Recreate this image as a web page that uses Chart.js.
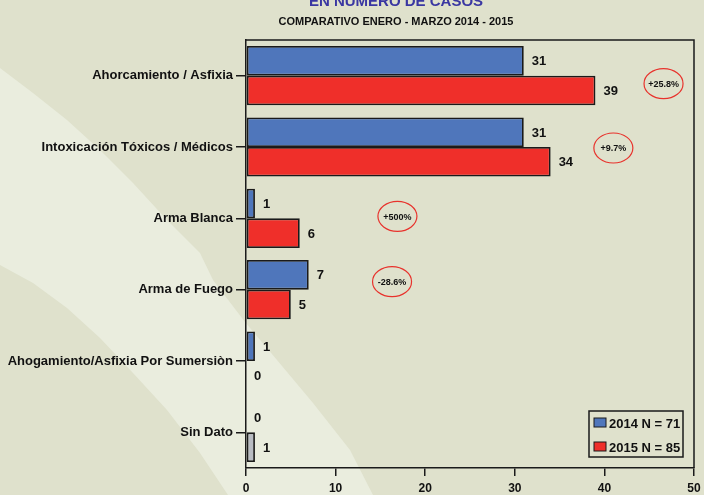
<!DOCTYPE html>
<html>
<head>
<meta charset="utf-8">
<script src="https://cdn.jsdelivr.net/npm/chart.js@4"></script>
<style>
  html, body { margin: 0; padding: 0; background: #dfe1cc; }
  #wrap { width: 704px; height: 495px; }
</style>
</head>
<body>
<div id="wrap"><canvas id="c" width="704" height="495"></canvas></div>
<script>
const categories = ['Ahorcamiento / Asfixia', 'Intoxicación Tóxicos / Médicos', 'Arma Blanca', 'Arma de Fuego', 'Ahogamiento/Asfixia Por Sumersiòn', 'Sin Dato'];
const values2014 = [31, 31, 1, 7, 1, 0];
const values2015 = [39, 34, 6, 5, 0, 1];
const seriesLabels = ['2014 N = 71', '2015 N = 85'];
const xTicks = [0, 10, 20, 30, 40, 50];
const titleText = 'EN NÚMERO DE CASOS';
const subtitleText = 'COMPARATIVO ENERO - MARZO 2014 - 2015';
const changeLabels = ['+25.8%', '+9.7%', '+500%', '-28.6%'];
const changeCategory = [0, 1, 2, 3];
const changeXValue = [46.6, 41.0, 16.9, 16.3];
const changeDy = [8, 1, -2, -8];

const BLUE = '#4f76bb', RED = '#ef2f2a', GREY = '#b9bcc3', EDGE = '#1a1a1a';
const FONT = "'Liberation Sans', Arial, sans-serif";

const bgPlugin = {
  id: 'bg',
  beforeDraw(chart) {
    const ctx = chart.ctx;
    ctx.save();
    ctx.fillStyle = '#dfe1cc';
    ctx.fillRect(0, 0, chart.width, chart.height);
    const upper = [[0,68],[33,93],[67,120],[100,150],[133,183],[167,220],[200,253],[213,280],[245,322],[277,360],[313,403],[350,450],[373,495]];
    const lower = [[0,265],[33,283],[67,308],[100,338],[133,373],[167,410],[200,453],[220,483],[228,495]];
    ctx.beginPath();
    upper.forEach((p, i) => i ? ctx.lineTo(p[0], p[1]) : ctx.moveTo(p[0], p[1]));
    for (let i = lower.length - 1; i >= 0; i--) ctx.lineTo(lower[i][0], lower[i][1]);
    ctx.closePath();
    ctx.fillStyle = '#eaedde';
    ctx.fill();
    ctx.restore();
  }
};

const overlayPlugin = {
  id: 'overlay',
  afterDatasetsDraw(chart) {
    const ctx = chart.ctx;
    ctx.save();
    ctx.fillStyle = '#111';
    ctx.font = 'bold 13px ' + FONT;
    ctx.textAlign = 'left';
    ctx.textBaseline = 'middle';
    chart.data.datasets.forEach((ds, di) => {
      const meta = chart.getDatasetMeta(di);
      meta.data.forEach((el, i) => {
        ctx.fillText(String(ds.data[i]), el.x + 8, el.y + 1);
      });
    });
    ctx.restore();
  },
  afterDraw(chart) {
    const ctx = chart.ctx;
    const a = chart.chartArea;
    ctx.save();
    ctx.strokeStyle = EDGE;
    ctx.lineWidth = 1.5;
    ctx.beginPath();
    ctx.moveTo(a.left, a.top);
    ctx.lineTo(a.right, a.top);
    ctx.lineTo(a.right, a.bottom);
    ctx.stroke();

    ctx.textAlign = 'center';
    ctx.textBaseline = 'alphabetic';
    ctx.fillStyle = '#3a37a2';
    ctx.font = 'bold 15px ' + FONT;
    ctx.fillText(titleText, 396, 6);
    ctx.fillStyle = '#111';
    ctx.font = 'bold 11px ' + FONT;
    ctx.fillText(subtitleText, 396, 25);

    const xs = chart.scales.x, ys = chart.scales.y;
    changeLabels.forEach((t, i) => {
      const cx = xs.getPixelForValue(changeXValue[i]);
      const cy = ys.getPixelForValue(changeCategory[i]) + changeDy[i];
      ctx.beginPath();
      ctx.ellipse(cx, cy, 19.5, 15, 0, 0, Math.PI * 2);
      ctx.strokeStyle = '#e8322c';
      ctx.lineWidth = 1.2;
      ctx.stroke();
      ctx.fillStyle = '#111';
      ctx.font = 'bold 9px ' + FONT;
      ctx.textAlign = 'center';
      ctx.textBaseline = 'middle';
      ctx.fillText(t, cx, cy + 1);
    });

    const lx = 589, ly = 411, lw = 94, lh = 46;
    ctx.strokeStyle = EDGE;
    ctx.lineWidth = 1.5;
    ctx.strokeRect(lx, ly, lw, lh);
    const colors = [BLUE, RED];
    seriesLabels.forEach((lab, i) => {
      const y = ly + 12 + i * 24;
      ctx.fillStyle = colors[i];
      ctx.fillRect(lx + 5, y - 5, 12, 9);
      ctx.strokeStyle = EDGE;
      ctx.lineWidth = 1;
      ctx.strokeRect(lx + 5, y - 5, 12, 9);
      ctx.fillStyle = '#111';
      ctx.font = 'bold 13px ' + FONT;
      ctx.textAlign = 'left';
      ctx.textBaseline = 'middle';
      ctx.fillText(lab, lx + 20, y + 1);
    });
    ctx.restore();
  }
};

const color2015 = values2015.map((v, i) => i === categories.length - 1 ? GREY : RED);

new Chart(document.getElementById('c'), {
  type: 'bar',
  data: {
    labels: categories,
    datasets: [
      { label: seriesLabels[0], data: values2014, backgroundColor: BLUE },
      { label: seriesLabels[1], data: values2015, backgroundColor: color2015 }
    ]
  },
  options: {
    indexAxis: 'y',
    responsive: false,
    animation: false,
    devicePixelRatio: 1,
    layout: { padding: { top: 40, right: 10, left: 0, bottom: 0 } },
    datasets: {
      bar: {
        categoryPercentage: 0.83,
        barPercentage: 1.0,
        borderColor: EDGE,
        borderWidth: (c) => (c.raw === 0 ? 0 : 1.8),
        borderSkipped: false
      }
    },
    plugins: {
      legend: { display: false },
      title: { display: false },
      tooltip: { enabled: false }
    },
    scales: {
      x: {
        min: 0, max: 50,
        afterFit(s) { s.height = 27; s.paddingRight = 0; s.paddingLeft = 0; },
        afterBuildTicks(s) { s.ticks = xTicks.map(v => ({ value: v })); },
        grid: { display: true, drawOnChartArea: false, drawTicks: true, tickLength: 8, color: EDGE, lineWidth: 1.5 },
        border: { display: true, color: EDGE, width: 1.5 },
        ticks: { color: '#111', font: { family: FONT, size: 12, weight: 'bold' }, padding: 5, maxRotation: 0 }
      },
      y: {
        afterFit(s) { s.width = 246; },
        grid: { display: true, offset: false, drawOnChartArea: false, drawTicks: true, tickLength: 10, color: EDGE, lineWidth: 1.5 },
        border: { display: true, color: EDGE, width: 1.5 },
        ticks: { color: '#111', font: { family: FONT, size: 13, weight: 'bold' }, padding: 3, autoSkip: false }
      }
    }
  },
  plugins: [bgPlugin, overlayPlugin]
});
</script>
</body>
</html>
